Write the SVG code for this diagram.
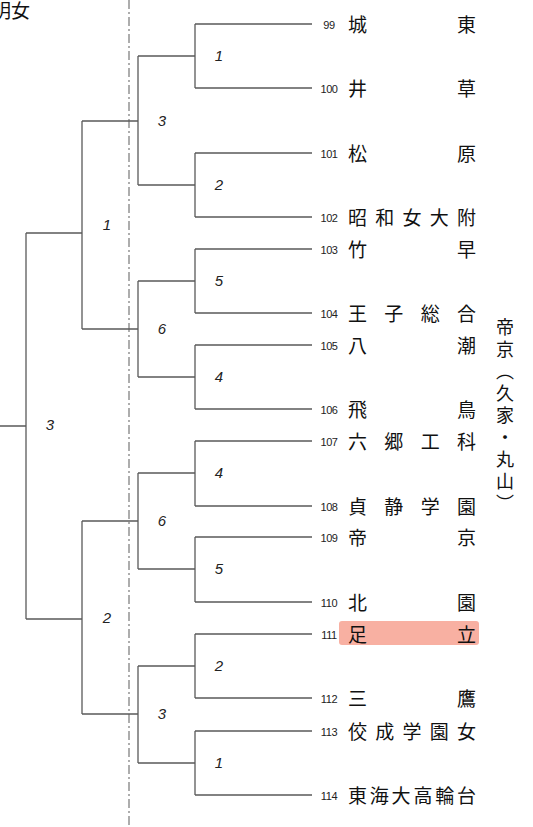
<svg xmlns="http://www.w3.org/2000/svg" width="533" height="827" viewBox="0 0 533 827">
<style>
.ln{fill:none;stroke:#5a5a5a;stroke-width:1.3}
.dd{fill:none;stroke:#777;stroke-width:1.2;stroke-dasharray:9 3 2 3}
.num{font-family:"Liberation Sans","Noto Sans",sans-serif;font-size:11px;fill:#222;text-anchor:middle;letter-spacing:-0.4px}
.nm{font-family:"Noto Sans CJK JP","Noto Sans CJK SC",sans-serif;font-size:19px;fill:#111}
.rd{font-family:"Liberation Sans",sans-serif;font-size:15px;font-style:italic;fill:#222;text-anchor:middle}
.vt{font-family:"Noto Sans CJK JP","Noto Sans CJK SC",sans-serif;font-size:18px;fill:#111;writing-mode:vertical-rl;letter-spacing:4px}
</style>
<rect width="533" height="827" fill="#fff"/>
<text class="nm" x="30" y="18" text-anchor="end">明女</text>
<line class="dd" x1="129" y1="0" x2="129" y2="827"/>
<rect id="hl111" x="339" y="621" width="140" height="24" rx="3" fill="#f8b0a2"/>
<g id="connectors">
<path class="ln" d="M195 24H312M195 88H312M195 153H312M195 217H312M195 249H312M195 313H312M195 345H312M195 409H312M195 441H312M195 506H312M195 537H312M195 602H312M195 634H312M195 698H312M195 731H312M195 795H312"/>
<path class="ln" d="M195 24V88M195 153V217M195 249V313M195 345V409M195 441V506M195 537V602M195 634V698M195 731V795"/>
<path class="ln" d="M138 56H195M138 185H195M138 281H195M138 377H195M138 473H195M138 569H195M138 666H195M138 763H195"/>
<path class="ln" d="M138 56V185M138 281V377M138 473V569M138 666V763"/>
<path class="ln" d="M82 121H138M82 329H138M82 521H138M82 714H138"/>
<path class="ln" d="M82 121V329M82 521V714"/>
<path class="ln" d="M26 233H82M26 619H82M26 233V619M0 426H26"/>
</g>
<g id="round-labels">
<text class="rd" x="219" y="61">1</text>
<text class="rd" x="219" y="190">2</text>
<text class="rd" x="219" y="286">5</text>
<text class="rd" x="219" y="382">4</text>
<text class="rd" x="219" y="478">4</text>
<text class="rd" x="219" y="574">5</text>
<text class="rd" x="219" y="671">2</text>
<text class="rd" x="219" y="768">1</text>
<text class="rd" x="162" y="126">3</text>
<text class="rd" x="162" y="334">6</text>
<text class="rd" x="162" y="526">6</text>
<text class="rd" x="162" y="719">3</text>
<text class="rd" x="107" y="230">1</text>
<text class="rd" x="107" y="623">2</text>
<text class="rd" x="50" y="430">3</text>
</g>
<g id="t99"><text class="num" x="329" y="28.5">99</text><text class="nm" x="348 457" y="32">城東</text></g>
<g id="t100"><text class="num" x="329" y="92.5">100</text><text class="nm" x="348 457" y="96">井草</text></g>
<g id="t101"><text class="num" x="329" y="157.5">101</text><text class="nm" x="348 457" y="161">松原</text></g>
<g id="t102"><text class="num" x="329" y="221.5">102</text><text class="nm" x="348 375.25 402.5 429.75 457" y="225">昭和女大附</text></g>
<g id="t103"><text class="num" x="329" y="253.5">103</text><text class="nm" x="348 457" y="257">竹早</text></g>
<g id="t104"><text class="num" x="329" y="317.5">104</text><text class="nm" x="348 384.3 420.7 457" y="321">王子総合</text></g>
<g id="t105"><text class="num" x="329" y="349.5">105</text><text class="nm" x="348 457" y="353">八潮</text></g>
<g id="t106"><text class="num" x="329" y="413.5">106</text><text class="nm" x="348 457" y="417">飛鳥</text></g>
<g id="t107"><text class="num" x="329" y="445.5">107</text><text class="nm" x="348 384.3 420.7 457" y="449">六郷工科</text></g>
<g id="t108"><text class="num" x="329" y="510.5">108</text><text class="nm" x="348 384.3 420.7 457" y="514">貞静学園</text></g>
<g id="t109"><text class="num" x="329" y="541.5">109</text><text class="nm" x="348 457" y="545">帝京</text></g>
<g id="t110"><text class="num" x="329" y="606.5">110</text><text class="nm" x="348 457" y="610">北園</text></g>
<g id="t111"><text class="num" x="329" y="638.5">111</text><text class="nm" x="348 457" y="642">足立</text></g>
<g id="t112"><text class="num" x="329" y="702.5">112</text><text class="nm" x="348 457" y="706">三鷹</text></g>
<g id="t113"><text class="num" x="329" y="735.5">113</text><text class="nm" x="348 375.25 402.5 429.75 457" y="739">佼成学園女</text></g>
<g id="t114"><text class="num" x="329" y="799.5">114</text><text class="nm" x="348 369.8 391.6 413.4 435.2 457" y="803">東海大高輪台</text></g>
<g id="note"><text class="vt" x="505" y="318">帝京（久家・丸山）</text></g>
</svg>
